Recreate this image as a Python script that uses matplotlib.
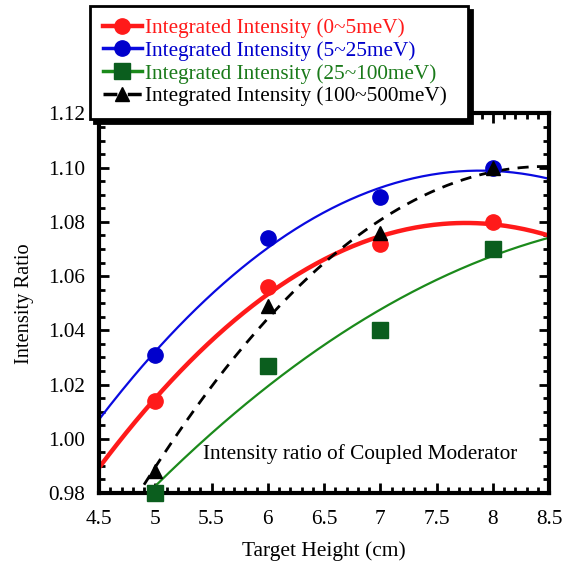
import numpy as np
import matplotlib
matplotlib.use('Agg')
import matplotlib.pyplot as plt
from matplotlib.ticker import MultipleLocator

plt.rcParams['font.family'] = ['Liberation Serif', 'DejaVu Serif']

# target heights (cm)
height = [5, 6, 7, 8]

# intensity ratios
ratio_0_5 = [1.014, 1.056, 1.072, 1.080]
ratio_5_25 = [1.031, 1.074, 1.089, 1.100]
ratio_25_100 = [0.980, 1.027, 1.040, 1.070]
ratio_100_500 = [0.988, 1.049, 1.076, 1.100]

labels = ['Integrated Intensity (0~5meV)',
          'Integrated Intensity (5~25meV)',
          'Integrated Intensity (25~100meV)',
          'Integrated Intensity (100~500meV)']

fig = plt.figure(figsize=(5.77, 5.64), dpi=100)
ax = fig.add_axes([0.1716, 0.1259, 0.78, 0.673])

def fit_line(y, x0, x1):
    # quadratic fit through the points, like the original trend lines
    c = np.polyfit(height, y, 2)
    xs = np.linspace(x0, x1, 200)
    return xs, np.polyval(c, xs)

# data, line colour, marker colour, text colour, marker, style, width, fit range, size
series = [
    (ratio_0_5, '#ff1a1a', '#ff1a1a', '#ff1a1a', 'o', '-', 3.2, 4.5, 8.5, 11),
    (ratio_5_25, '#0a0ae0', '#0000cc', '#0000cc', 'o', '-', 1.6, 4.5, 8.5, 11),
    (ratio_25_100, '#1b8a1b', '#0b5e1e', '#1a7a1a', 's', '-', 1.6, 5.0, 8.5, 11),
    (ratio_100_500, 'k', 'k', 'k', '^', (0, (4, 3)), 2.0, 4.9, 8.5, 9.5),
]

handles = []
for y, lc, mc, tc, mk, ls, lw, x0, x1, ms in series:
    xs, ys = fit_line(y, x0, x1)
    ax.plot(xs, ys, color=lc, ls=ls, lw=lw, zorder=2)
    ax.plot(height, y, ls='none', marker=mk, color=mc, ms=ms, zorder=3,
            clip_on=False)
    h, = ax.plot([], [], color=lc, ls=ls, lw=max(lw, 2.5), marker=mk,
                 mfc=mc, mec=mc, ms=ms)
    handles.append(h)

ax.set_xlim(4.5, 8.5)
ax.set_ylim(0.98, 1.12)
ax.xaxis.set_minor_locator(MultipleLocator(0.1))
ax.yaxis.set_major_locator(MultipleLocator(0.02))
ax.yaxis.set_minor_locator(MultipleLocator(0.005))
ax.set_xticks([4.5, 5, 5.5, 6, 6.5, 7, 7.5, 8, 8.5])
ax.set_xticklabels(['4.5', '5', '5.5', '6', '6.5', '7', '7.5', '8', '8.5'])
ax.yaxis.set_major_formatter(matplotlib.ticker.FormatStrFormatter('%.2f'))
ax.tick_params(which='both', direction='in', top=True, right=True,
               width=2, labelsize=15.3)
ax.tick_params(axis='x', which='major', pad=12)
ax.tick_params(axis='y', which='major', pad=10)
ax.tick_params(which='major', length=7)
ax.tick_params(which='minor', length=4)
for s in ax.spines.values():
    s.set_linewidth(3)

ax.set_xlabel('Target Height (cm)', fontsize=15.4, labelpad=9)
ax.set_ylabel('Intensity Ratio', fontsize=14.7, labelpad=10)

ax.text(5.42, 0.9945, 'Intensity ratio of Coupled Moderator', fontsize=15.3,
        va='center', ha='left')

leg = fig.legend(handles, labels, loc='upper left', mode='expand',
                 bbox_to_anchor=(0.156, 0.793, 0.655, 0.197), fontsize=15.3,
                 frameon=True, fancybox=False, handlelength=1.85,
                 handletextpad=0.15, labelspacing=0.13, borderpad=0.6,
                 borderaxespad=0,
                 shadow={'ox': 3, 'oy': -3, 'facecolor': 'k',
                         'edgecolor': 'k', 'alpha': 1})
leg.get_frame().set_edgecolor('k')
leg.get_frame().set_linewidth(2)
for t, s in zip(leg.get_texts(), series):
    t.set_color(s[3])
leg.set_zorder(5)

fig.savefig('out.png', dpi=100)
